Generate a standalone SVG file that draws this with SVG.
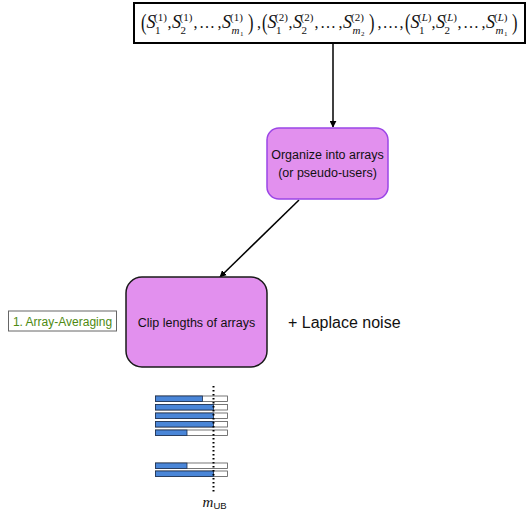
<svg xmlns="http://www.w3.org/2000/svg" width="527" height="510" viewBox="0 0 527 510">
<style>
.sans{font-family:"Liberation Sans",Arial,sans-serif}
.ser{font-family:"Liberation Serif","DejaVu Serif",serif;fill:#111}
.S{font-style:italic;font-size:18px}
.par{font-size:16.5px}
.sp{font-size:11px}
.sb{font-size:11px}
.ssb{font-size:7px}
.cm{font-size:16px}
.box{fill:#e290ee}
.conn{stroke:#000;stroke-width:1.5;fill:none}
.bar{fill:#fff;stroke:#555;stroke-width:0.8}
.fill{fill:#4a86d8;stroke:#1c2f4f;stroke-width:0.8}
</style>
<defs>
<marker id="ah" viewBox="0 0 10 10" refX="9" refY="5" markerWidth="7" markerHeight="7" orient="auto" markerUnits="userSpaceOnUse">
<path d="M0,0 L10,5 L0,10 z" fill="#000"/>
</marker>
</defs>
<g id="sequences">
<rect x="134" y="3" width="391" height="40" fill="#fff" stroke="#000" stroke-width="2"/>
<g class="ser" transform="translate(141,0)">
<text class="par" transform="translate(0,30) scale(1,1.45)">(</text>
<text class="S" x="5.5" y="28">S</text>
<text class="sp" x="13" y="20.5">(1)</text>
<text class="sb" x="14" y="34">1</text>
<text class="cm" x="26.5" y="28">,</text>
<text class="S" x="31" y="28">S</text>
<text class="sp" x="38.5" y="20.5">(1)</text>
<text class="sb" x="39.5" y="34">2</text>
<text class="cm" x="52.5" y="28">,</text>
<text class="cm" x="58" y="28">…</text>
<text class="cm" x="76.5" y="28">,</text>
<text class="S" x="81" y="28">S</text>
<text class="sp" x="89" y="20.5">(1)</text>
<text class="sb" x="90.5" y="34" font-style="italic">m</text>
<text class="ssb" x="99" y="36">1</text>
<text class="par" transform="translate(107,30) scale(1,1.45)">)</text>
</g>
<text class="ser cm" x="257" y="28">,</text>
<g class="ser" transform="translate(262,0)">
<text class="par" transform="translate(0,30) scale(1,1.45)">(</text>
<text class="S" x="5.5" y="28">S</text>
<text class="sp" x="13" y="20.5">(2)</text>
<text class="sb" x="14" y="34">1</text>
<text class="cm" x="26.5" y="28">,</text>
<text class="S" x="31" y="28">S</text>
<text class="sp" x="38.5" y="20.5">(2)</text>
<text class="sb" x="39.5" y="34">2</text>
<text class="cm" x="52.5" y="28">,</text>
<text class="cm" x="58" y="28">…</text>
<text class="cm" x="76.5" y="28">,</text>
<text class="S" x="81" y="28">S</text>
<text class="sp" x="89" y="20.5">(2)</text>
<text class="sb" x="90.5" y="34" font-style="italic">m</text>
<text class="ssb" x="99" y="36">2</text>
<text class="par" transform="translate(107,30) scale(1,1.45)">)</text>
</g>
<text class="ser cm" x="377.5" y="28">,</text>
<text class="ser cm" x="382.5" y="28">…</text>
<text class="ser cm" x="399.5" y="28">,</text>
<g class="ser" transform="translate(405,0)">
<text class="par" transform="translate(0,30) scale(1,1.45)">(</text>
<text class="S" x="5.5" y="28">S</text>
<text class="sp" x="13" y="20.5">(<tspan font-style="italic">L</tspan>)</text>
<text class="sb" x="14" y="34">1</text>
<text class="cm" x="26.5" y="28">,</text>
<text class="S" x="31" y="28">S</text>
<text class="sp" x="38.5" y="20.5">(<tspan font-style="italic">L</tspan>)</text>
<text class="sb" x="39.5" y="34">2</text>
<text class="cm" x="52.5" y="28">,</text>
<text class="cm" x="58" y="28">…</text>
<text class="cm" x="76.5" y="28">,</text>
<text class="S" x="81" y="28">S</text>
<text class="sp" x="89" y="20.5">(<tspan font-style="italic">L</tspan>)</text>
<text class="sb" x="90.5" y="34" font-style="italic">m</text>
<text class="ssb" x="99" y="36">1</text>
<text class="par" transform="translate(107,30) scale(1,1.45)">)</text>
</g>
</g>
<g id="connectors">
<line class="conn" x1="333" y1="43" x2="333" y2="127" marker-end="url(#ah)"/>
<line class="conn" x1="299" y1="200" x2="220" y2="277" marker-end="url(#ah)"/>
</g>
<g id="organize">
<rect class="box" x="267" y="128" width="121" height="71" rx="12" stroke="#9b45e6" stroke-width="1.5"/>
<text class="sans" x="327.5" y="159" font-size="12.5" text-anchor="middle" fill="#111">Organize into arrays</text>
<text class="sans" x="327.5" y="177" font-size="12.5" text-anchor="middle" fill="#111">(or pseudo-users)</text>
</g>
<g id="clip">
<rect class="box" x="126" y="277" width="141" height="90" rx="16" stroke="#1a1a1a" stroke-width="1.5"/>
<text class="sans" x="196.5" y="327" font-size="12.5" text-anchor="middle" fill="#111">Clip lengths of arrays</text>
</g>
<g id="laplace">
<text class="sans" x="288" y="328" font-size="16" fill="#111">+ Laplace noise</text>
</g>
<g id="label">
<rect x="8.5" y="311" width="108" height="20" fill="#fff" stroke="#666" stroke-width="1"/>
<text class="sans" x="62.5" y="326" font-size="12" text-anchor="middle" fill="#4e8a12">1. Array-Averaging</text>
</g>
<g id="bars">
<rect class="bar" x="155.5" y="396" width="72" height="5.5"/>
<rect class="fill" x="155.5" y="396" width="47" height="5.5"/>
<rect class="bar" x="155.5" y="404.5" width="72" height="5.5"/>
<rect class="fill" x="155.5" y="404.5" width="58" height="5.5"/>
<rect class="bar" x="155.5" y="413" width="72" height="5.5"/>
<rect class="fill" x="155.5" y="413" width="58" height="5.5"/>
<rect class="bar" x="155.5" y="421.5" width="72" height="5.5"/>
<rect class="fill" x="155.5" y="421.5" width="58" height="5.5"/>
<rect class="bar" x="155.5" y="430" width="72" height="5.5"/>
<rect class="fill" x="155.5" y="430" width="31.5" height="5.5"/>
<rect class="bar" x="155.5" y="463" width="72" height="5.5"/>
<rect class="fill" x="155.5" y="463" width="31.5" height="5.5"/>
<rect class="bar" x="155.5" y="471" width="72" height="5.5"/>
<rect class="fill" x="155.5" y="471" width="58" height="5.5"/>
<line x1="213.5" y1="386" x2="213.5" y2="493" stroke="#000" stroke-width="2" stroke-dasharray="1.5 2.5"/>
<text class="ser" x="202.5" y="507" font-size="15" font-style="italic">m</text>
<text class="sans" x="213.5" y="509" font-size="9.5" fill="#111">UB</text>
</g>
</svg>
